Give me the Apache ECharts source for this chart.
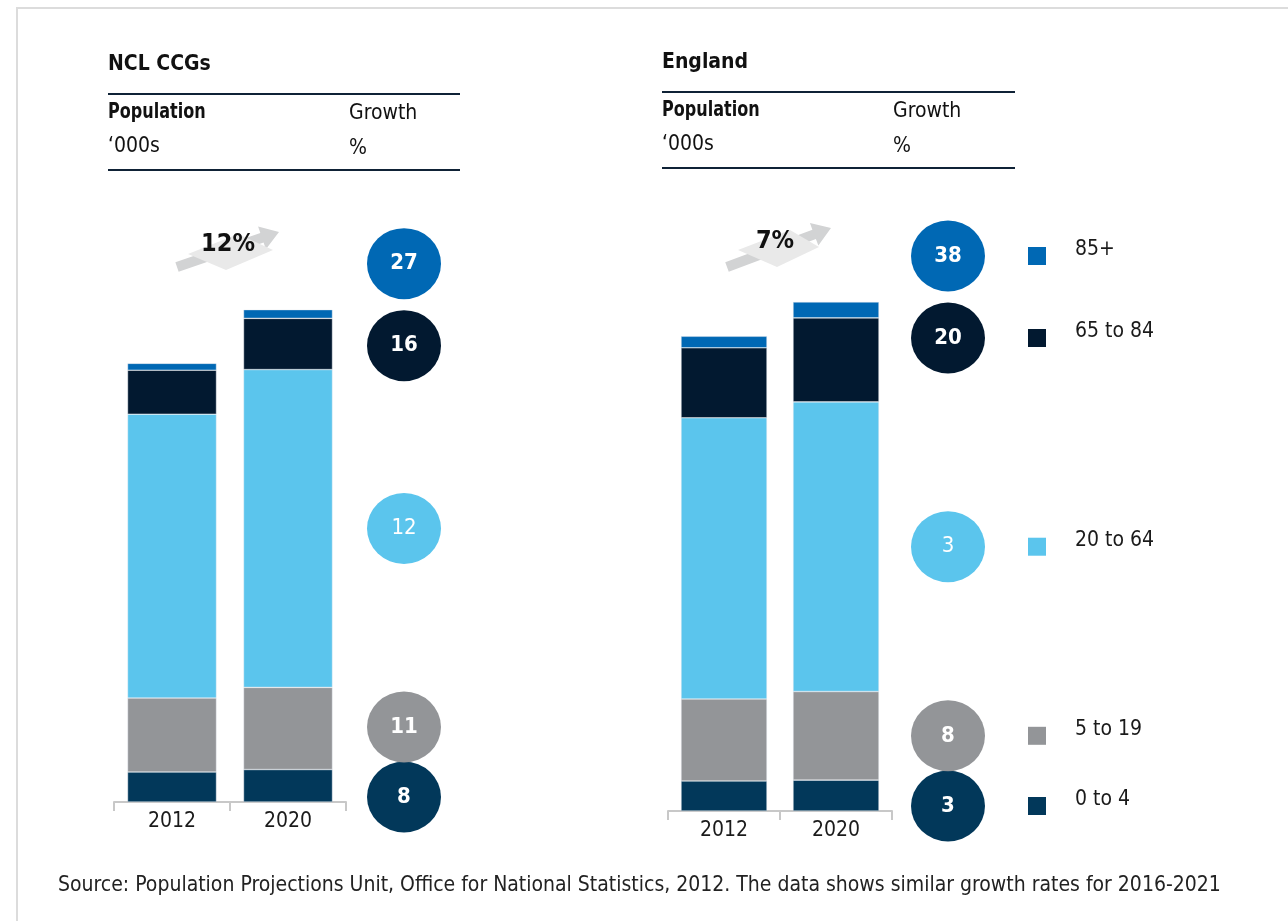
<!DOCTYPE html>
<html>
<head>
<meta charset="utf-8">
<title>Population growth by age band</title>
<script src="https://cdn.jsdelivr.net/npm/echarts@6/dist/echarts.min.js"></script>
<style>
html, body { margin: 0; padding: 0; background: #fff; }
#chart { width: 1288px; height: 921px; }
</style>
</head>
<body>
<div id="chart"></div>
<script>
// ---- data ----
const years = ['2012', '2020'];
const ageBands = ['0 to 4', '5 to 19', '20 to 64', '65 to 84', '85+'];

// population, '000s, one value per age band
const ncl2012 = [96, 237, 909, 141, 22];
const ncl2020 = [104, 263, 1018, 164, 28];
const nclGrowth = [8, 11, 12, 16, 27];
const nclTotalGrowth = 12;

const eng2012 = [3380, 9230, 31650, 7880, 1300];
const eng2020 = [3480, 9970, 32600, 9460, 1790];
const engGrowth = [3, 8, 3, 20, 38];
const engTotalGrowth = 7;

// ---- styles / layout ----
const FONT = "'DejaVu Sans Condensed', 'DejaVu Sans', sans-serif";
const bandColors = ['#02385a', '#939598', '#5bc5ed', '#021930', '#0068b4'];
const lineColor = '#0f2236';

const panels = [
  { key: 'ncl', title: 'NCL CCGs', v2012: ncl2012, v2020: ncl2020, growth: nclGrowth,
    total: nclTotalGrowth, left: 114, width: 232, top: 240, height: 562, yMax: 1800,
    barWidth: 89, circleWidth: 116, head: { x: 108, x2: 460, growthX: 349, y: 65 },
    arrow: { tail: [177, 267], tip: [279, 232], diamond: [[188, 254], [238, 234], [273, 250], [226, 270]], text: [228, 244] } },
  { key: 'eng', title: 'England', v2012: eng2012, v2020: eng2020, growth: engGrowth,
    total: engTotalGrowth, left: 668, width: 224, top: 278, height: 533, yMax: 60000,
    barWidth: 86, circleWidth: 112, head: { x: 662, x2: 1015, growthX: 893, y: 63 },
    arrow: { tail: [727, 267], tip: [831, 228], diamond: [[738, 250], [790, 230], [819, 247], [777, 267]], text: [775, 241] } }
];

// circle centres: start from the 2020 segment mid-points, keep the top one
// clear of the bar, chain close neighbours under it, then keep them apart
function circlePositions(values, pxToData) {
  const mids = [];
  let acc = 0;
  values.forEach(v => { mids.push(acc + v / 2); acc += v; });
  const gap = 82 * pxToData;
  const snap = 25 * pxToData;
  const n = mids.length;
  mids[n - 1] = Math.max(mids[n - 1], acc + 46 * pxToData);
  for (let i = n - 2; i >= 0; i--) {
    const target = mids[i + 1] - gap;
    if (mids[i] > target - snap) mids[i] = target;
  }
  mids[0] = Math.max(mids[0], 5 * pxToData);
  for (let i = 1; i < n; i++) {
    mids[i] = Math.max(mids[i], mids[i - 1] + 70 * pxToData);
  }
  return mids;
}

function arrowPoints(tail, tip, shaft, headW, headLen) {
  const dx = tip[0] - tail[0], dy = tip[1] - tail[1];
  const len = Math.sqrt(dx * dx + dy * dy);
  const ux = dx / len, uy = dy / len;
  const nx = -uy, ny = ux;
  const bx = tip[0] - ux * headLen, by = tip[1] - uy * headLen;
  return [
    [tail[0] + nx * shaft / 2, tail[1] + ny * shaft / 2],
    [bx + nx * shaft / 2, by + ny * shaft / 2],
    [bx + nx * headW / 2, by + ny * headW / 2],
    tip,
    [bx - nx * headW / 2, by - ny * headW / 2],
    [bx - nx * shaft / 2, by - ny * shaft / 2],
    [tail[0] - nx * shaft / 2, tail[1] - ny * shaft / 2]
  ];
}

const grid = [], xAxis = [], yAxis = [], series = [], graphic = [];

// frame
graphic.push({ type: 'polyline', shape: { points: [[17, 921], [17, 8], [1288, 8]] },
  style: { stroke: '#dcdcdc', lineWidth: 2, fill: null } });

panels.forEach((p, pi) => {
  const barGrid = pi * 2, circGrid = pi * 2 + 1;
  grid.push({ left: p.left, width: p.width, top: p.top, height: p.height });
  grid.push({ left: p.left + p.width, width: p.circleWidth, top: p.top, height: p.height });

  xAxis.push({
    gridIndex: barGrid, type: 'category', data: years, boundaryGap: true, offset: 1,
    axisLine: { lineStyle: { color: '#c8c8c8', width: 2 } },
    axisTick: { show: true, length: 9, lineStyle: { color: '#c8c8c8', width: 2 } },
    axisLabel: { color: '#1a1a1a', fontSize: 21, fontFamily: FONT, margin: 8 }
  });
  xAxis.push({ gridIndex: circGrid, type: 'category', data: ['growth'], show: false });
  yAxis.push({ gridIndex: barGrid, type: 'value', min: 0, max: p.yMax, show: false });
  yAxis.push({ gridIndex: circGrid, type: 'value', min: 0, max: p.yMax, show: false });

  ageBands.forEach((band, i) => {
    series.push({
      name: band, type: 'bar', stack: p.key, xAxisIndex: barGrid, yAxisIndex: barGrid,
      barWidth: p.barWidth,
      itemStyle: { color: bandColors[i], borderColor: 'rgba(230,236,240,0.7)', borderWidth: 0.6 },
      data: [p.v2012[i], p.v2020[i]]
    });
  });

  const pos = circlePositions(p.v2020, p.yMax / p.height);
  series.push({
    name: p.key + ' growth', type: 'scatter', xAxisIndex: circGrid, yAxisIndex: circGrid,
    symbol: 'circle', symbolSize: [74, 71], z: 5, clip: false,
    data: pos.map((y, i) => ({
      value: [0, y],
      itemStyle: { color: bandColors[i], opacity: 1 },
      label: { fontWeight: i === 2 ? 'normal' : 'bold' }
    })),
    label: {
      show: true, position: 'inside', color: '#fff', fontSize: 22, fontFamily: FONT,
      formatter: prm => String(p.growth[prm.dataIndex])
    }
  });

  if (pi === 1) {
    series.push({
      name: 'legend', type: 'scatter', xAxisIndex: circGrid, yAxisIndex: circGrid,
      symbol: 'rect', symbolSize: 18, symbolOffset: [89, 0], z: 5, clip: false,
      data: pos.map((y, i) => ({ value: [0, y], itemStyle: { color: bandColors[i], opacity: 1 } })),
      label: {
        show: true, position: 'right', distance: 29, offset: [0, -6],
        color: '#1a1a1a', fontSize: 21, fontFamily: FONT,
        formatter: prm => ageBands[prm.dataIndex]
      }
    });
  }

  // header block
  const h = p.head;
  graphic.push(
    { type: 'text', style: { text: p.title, x: h.x, y: h.y, fill: '#111', font: 'bold 21px ' + FONT, verticalAlign: 'middle' } },
    { type: 'line', shape: { x1: h.x, y1: h.y + 29, x2: h.x2, y2: h.y + 29 }, style: { stroke: lineColor, lineWidth: 2 } },
    { type: 'text', x: h.x, y: h.y + 48, scaleX: 0.85,
      style: { text: 'Population', x: 0, y: 0, fill: '#111', font: 'bold 21px ' + FONT, verticalAlign: 'middle' } },
    { type: 'text', style: { text: 'Growth', x: h.growthX, y: h.y + 49, fill: '#111', font: '21px ' + FONT, verticalAlign: 'middle' } },
    { type: 'text', style: { text: '\u2018000s', x: h.x, y: h.y + 82, fill: '#111', font: '21px ' + FONT, verticalAlign: 'middle' } },
    { type: 'text', style: { text: '%', x: h.growthX, y: h.y + 84, fill: '#111', font: '21px ' + FONT, verticalAlign: 'middle' } },
    { type: 'line', shape: { x1: h.x, y1: h.y + 105, x2: h.x2, y2: h.y + 105 }, style: { stroke: lineColor, lineWidth: 2 } }
  );

  // total growth arrow
  const a = p.arrow;
  graphic.push(
    { type: 'polygon', shape: { points: arrowPoints(a.tail, a.tip, 10, 24, 18) }, style: { fill: '#d2d3d4' } },
    { type: 'polygon', shape: { points: a.diamond }, style: { fill: '#e9e9e9' } },
    { type: 'text', style: { text: p.total + '%', x: a.text[0], y: a.text[1], fill: '#111', font: 'bold 25px ' + FONT, align: 'center', verticalAlign: 'middle' } }
  );
});

graphic.push({ type: 'text', style: {
  text: 'Source: Population Projections Unit, Office for National Statistics, 2012. The data shows similar growth rates for 2016-2021',
  x: 58, y: 886, fill: '#222', font: '21px ' + FONT, verticalAlign: 'middle' } });

const chart = echarts.init(document.getElementById('chart'));
chart.setOption({
  animation: false,
  textStyle: { fontFamily: FONT },
  grid: grid,
  xAxis: xAxis,
  yAxis: yAxis,
  series: series,
  graphic: graphic
});
</script>
</body>
</html>
